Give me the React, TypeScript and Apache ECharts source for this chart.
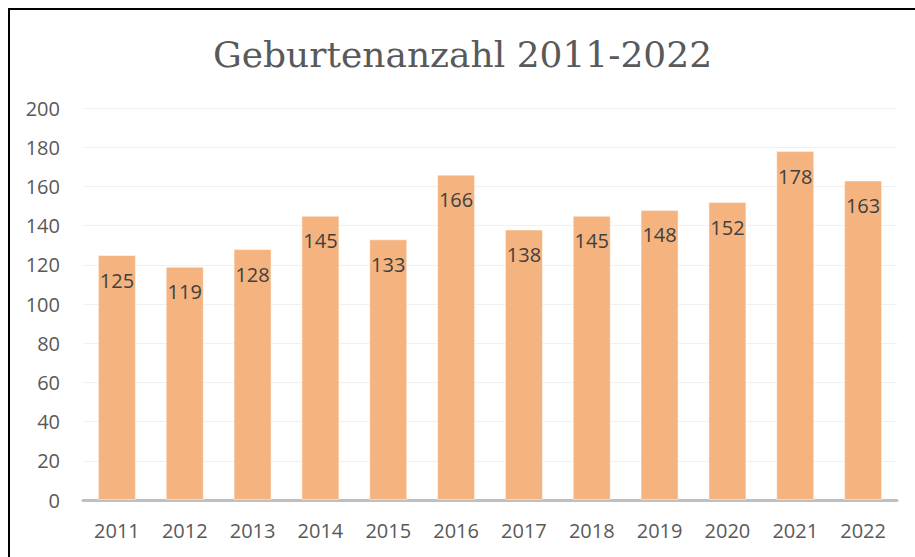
import React, { useEffect, useRef } from "react";
import * as echarts from "echarts";

const years = ["2011", "2012", "2013", "2014", "2015", "2016", "2017", "2018", "2019", "2020", "2021", "2022"];
const births = [125, 119, 128, 145, 133, 166, 138, 145, 148, 152, 178, 163];
const titleText = "Geburtenanzahl 2011-2022";

export default function App() {
  const ref = useRef<HTMLDivElement>(null);
  useEffect(() => {
    if (!ref.current) return;
    const chart = echarts.init(ref.current, undefined, { renderer: "svg" });
    chart.setOption({
      animation: false,
      backgroundColor: "#ffffff",
      title: {
        text: titleText,
        left: "center",
        top: 21,
        textStyle: { fontFamily: "DejaVu Serif", fontSize: 36, fontWeight: "normal", color: "#595959" },
      },
      grid: { left: 73, top: 98, width: 814, height: 392 },
      xAxis: {
        type: "category",
        data: years,
        axisLine: { lineStyle: { color: "#BFBFBF", width: 3 } },
        axisTick: { show: false },
        axisLabel: { color: "#595959", fontFamily: "Open Sans", fontSize: 20, margin: 20 },
      },
      yAxis: {
        type: "value",
        min: 0,
        max: 200,
        interval: 20,
        axisLine: { show: false },
        axisTick: { show: false },
        splitLine: { lineStyle: { color: "#F0F0F0", width: 1 } },
        axisLabel: { color: "#595959", fontFamily: "Open Sans", fontSize: 20, margin: 23 },
      },
      series: [
        {
          type: "bar",
          data: births,
          barWidth: "56%",
          itemStyle: { color: "#F5B47F", borderColor: "rgba(255,255,255,0.45)", borderWidth: 1 },
          label: {
            show: true,
            position: "insideTop",
            distance: 15,
            color: "#404040",
            fontFamily: "Open Sans",
            fontSize: 20,
          },
        },
      ],
    });
    return () => chart.dispose();
  }, []);
  return (
    <div style={{ position: "fixed", left: 8, top: 8, width: 907, height: 549, overflow: "hidden" }}>
      <div
        style={{
          position: "absolute",
          left: 0,
          top: 0,
          width: 940,
          height: 580,
          border: "2px solid #000",
          boxSizing: "border-box",
        }}
      >
        <div ref={ref} style={{ width: 905, height: 547 }} />
      </div>
    </div>
  );
}
